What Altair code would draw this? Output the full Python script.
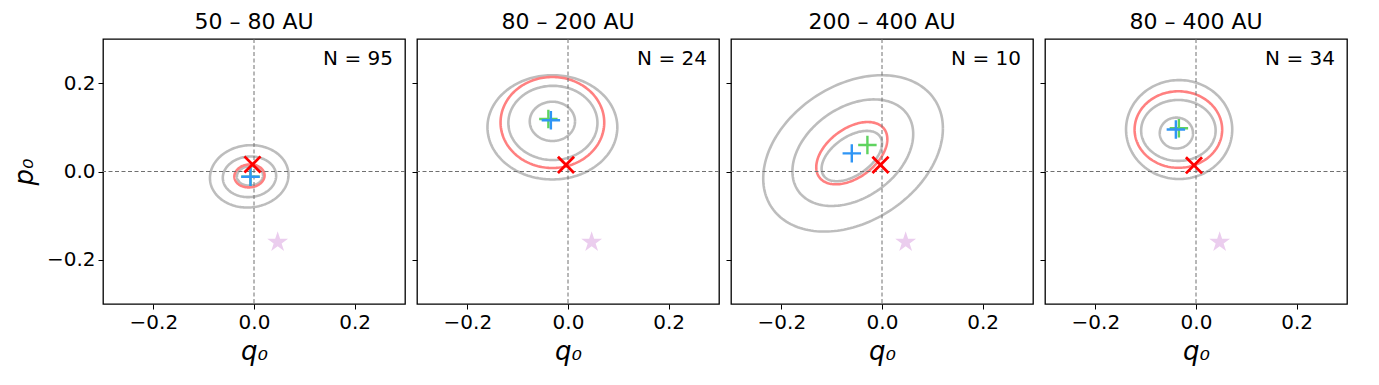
import altair as alt
import numpy as np
import pandas as pd

# ---------------- data ----------------
panel_titles = ["50 – 80 AU", "80 – 200 AU", "200 – 400 AU", "80 – 400 AU"]
panel_counts = [95, 24, 10, 34]

# contour ellipses (centre, half-extent along q0 and p0, correlation-like tilt)
contour_panel = [0, 0, 0, 0, 1, 1, 1, 1, 2, 2, 2, 2, 3, 3, 3, 3]
contour_kind = ["gray", "gray", "gray", "red"] * 4
contour_cx = [-0.008, -0.009, -0.0095, -0.009,
              -0.031, -0.030, -0.031, -0.031,
              -0.060, -0.058, -0.0575, -0.060,
              -0.039, -0.035, -0.0335, -0.035]
contour_cy = [-0.010, -0.012, -0.011, -0.010,
              0.1135, 0.110, 0.100, 0.111,
              0.035, 0.0426, 0.041, 0.0415,
              0.087, 0.093, 0.095, 0.095]
contour_hx = [0.026, 0.053, 0.078, 0.030,
              0.045, 0.0885, 0.129, 0.103,
              0.060, 0.120, 0.1785, 0.0706,
              0.033, 0.074, 0.1055, 0.087]
contour_hy = [0.022, 0.046, 0.0706, 0.026,
              0.0445, 0.084, 0.118, 0.103,
              0.057, 0.1206, 0.177, 0.0705,
              0.035, 0.069, 0.112, 0.0866]
contour_rho = [0.05, 0.05, 0.05, 0.05,
               0.0, 0.0, 0.0, 0.0,
               0.5, 0.35, 0.32, 0.45,
               0.0, 0.0, 0.0, 0.0]

# markers
blue_q = [-0.007, -0.034, -0.060, -0.040]
blue_p = [-0.012, 0.116, 0.041, 0.095]
green_q = [-0.007, -0.039, -0.029, -0.034]
green_p = [-0.012, 0.119, 0.060, 0.098]
cross_q = [-0.003, -0.004, -0.003, -0.004]
cross_p = [0.016, 0.015, 0.015, 0.014]
star_q = [0.047, 0.047, 0.047, 0.047]
star_p = [-0.160, -0.160, -0.160, -0.160]

# ---------------- build tables ----------------
rows = []
t = np.linspace(0, 2 * np.pi, 181)
for cid in range(len(contour_panel)):
    rho = contour_rho[cid]
    xs = contour_cx[cid] + contour_hx[cid] * np.cos(t)
    ys = contour_cy[cid] + contour_hy[cid] * (rho * np.cos(t) + np.sqrt(1 - rho ** 2) * np.sin(t))
    for k, (xv, yv) in enumerate(zip(xs, ys)):
        rows.append({"panel": contour_panel[cid], "kind": contour_kind[cid],
                     "cid": cid, "k": k, "q": xv, "p": yv})
contours = pd.DataFrame(rows)

markers = pd.DataFrame({
    "panel": list(range(4)),
    "bq": blue_q, "bp": blue_p, "gq": green_q, "gp": green_p,
    "xq": cross_q, "xp": cross_p, "sq": star_q, "sp": star_p,
    "label": [f"N = {n}" for n in panel_counts],
})

PLUS = "M-1,0L1,0M0,-1L0,1"
XMARK = "M-1,-1L1,1M-1,1L1,-1"
STAR = ("M0,-1L0.2245,-0.309L0.951,-0.309L0.363,0.118L0.588,0.809L0,0.382"
        "L-0.588,0.809L-0.363,0.118L-0.951,-0.309L-0.2245,-0.309Z")

W, H = 302, 265
FONT = "DejaVu Sans"
xscale = alt.Scale(domain=[-0.3, 0.3], nice=False, zero=False)
yscale = alt.Scale(domain=[-0.3, 0.3], nice=False, zero=False)
ticks = [-0.2, 0.0, 0.2]


def panel(i):
    first = i == 0
    xaxis = alt.Axis(values=ticks, format=".1f", title="q₀")
    yaxis = alt.Axis(values=ticks, format=".1f", title="p₀" if first else None,
                     labels=first)
    cdf = contours[contours.panel == i]
    mdf = markers[markers.panel == i]

    gray = alt.Chart(cdf[cdf.kind == "gray"]).mark_line(
        color="#bdbdbd", strokeWidth=2.6, clip=True
    ).encode(
        x=alt.X("q:Q", scale=xscale, axis=xaxis),
        y=alt.Y("p:Q", scale=yscale, axis=yaxis),
        detail="cid:N", order="k:Q",
    )
    red = alt.Chart(cdf[cdf.kind == "red"]).mark_line(
        color="#ff8080", strokeWidth=2.6, clip=True
    ).encode(
        x=alt.X("q:Q", scale=xscale), y=alt.Y("p:Q", scale=yscale),
        detail="cid:N", order="k:Q",
    )
    zero = pd.DataFrame({"v": [0.0]})
    vline = alt.Chart(zero).mark_rule(color="#707070", strokeWidth=1,
                                      strokeDash=[4, 2.5]).encode(
        x=alt.X("v:Q", scale=xscale))
    hline = alt.Chart(zero).mark_rule(color="#707070", strokeWidth=1,
                                      strokeDash=[4, 2.5]).encode(
        y=alt.Y("v:Q", scale=yscale))
    mbase = alt.Chart(mdf)
    star = mbase.mark_point(shape=STAR, filled=True, color="#ebcdee",
                            opacity=1, size=480).encode(
        x=alt.X("sq:Q", scale=xscale), y=alt.Y("sp:Q", scale=yscale))
    green = mbase.mark_point(shape=PLUS, filled=False, color="#5fd35f",
                             strokeWidth=2.4, opacity=1, size=340).encode(
        x=alt.X("gq:Q", scale=xscale), y=alt.Y("gp:Q", scale=yscale))
    blue = mbase.mark_point(shape=PLUS, filled=False, color="#2f95f5",
                            strokeWidth=2.4, opacity=1, size=340).encode(
        x=alt.X("bq:Q", scale=xscale), y=alt.Y("bp:Q", scale=yscale))
    cross = mbase.mark_point(shape=XMARK, filled=False, color="#ff0000",
                             strokeWidth=2.8, opacity=1, size=260).encode(
        x=alt.X("xq:Q", scale=xscale), y=alt.Y("xp:Q", scale=yscale))
    ntext = mbase.mark_text(align="right", baseline="middle", font=FONT,
                            fontSize=20, color="black").encode(
        x=alt.value(W - 12), y=alt.value(20), text="label:N")

    return alt.layer(gray, red, vline, hline, star, green, blue, cross, ntext).properties(
        width=W, height=H,
        title=alt.TitleParams(panel_titles[i], fontSize=22, font=FONT,
                              fontWeight="normal", color="black", offset=5),
    )


chart = alt.hconcat(*[panel(i) for i in range(4)], spacing=3).properties(
    padding={"left": 2, "top": 1, "right": 5, "bottom": 5}
).configure(
    background="white"
).configure_view(
    stroke="black", strokeWidth=1.3
).configure_axis(
    domain=False, grid=False, ticks=True, tickSize=5, tickColor="black",
    tickWidth=1, labelFont=FONT, labelFontSize=20, labelColor="black",
    labelPadding=3, titleFont=FONT, titleFontSize=26, titleFontStyle="italic",
    titleFontWeight="normal", titleColor="black",
).configure_axisX(titlePadding=6).configure_axisY(titlePadding=9)

chart.save("out.html", embed_options={"renderer": "svg", "actions": False})
